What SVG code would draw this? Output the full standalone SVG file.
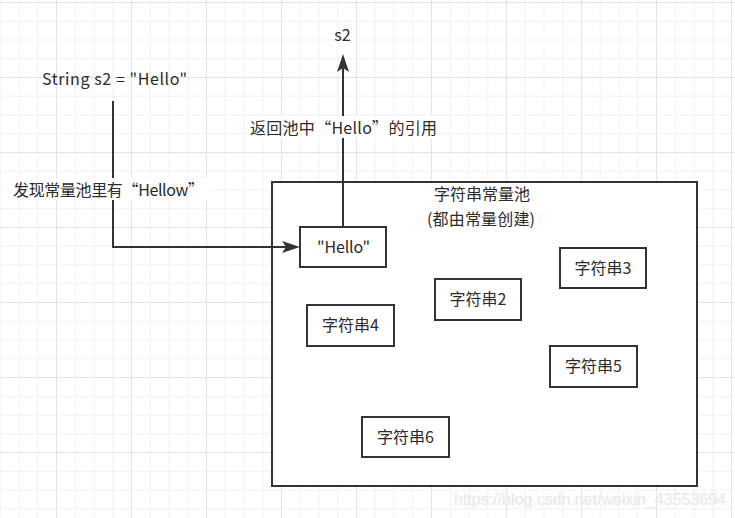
<svg xmlns="http://www.w3.org/2000/svg" width="735" height="518" viewBox="0 0 735 518">
<style>
.txt{font-family:"Noto Sans CJK SC","Noto Sans",sans-serif;font-size:16px;fill:#2b2b2b;text-anchor:middle}
.fw{font-feature-settings:"fwid" 1}
.box{fill:#ffffff;stroke:#333333;stroke-width:2}
.edge{fill:none;stroke:#333333;stroke-width:2}
.lbg{fill:#ffffff}
.wm{font-family:"Liberation Sans",sans-serif;font-size:16px;fill:#dcdcdc;stroke:#f4f4f4;stroke-width:0.6}
</style>
<defs>
<pattern id="grid" patternUnits="userSpaceOnUse" x="56" y="2" width="75" height="75">
<rect x="0" y="0" width="75" height="75" fill="#ffffff"/>
<rect x="18.75" y="0" width="1" height="75" fill="#f1f1f1"/>
<rect x="37.5" y="0" width="1" height="75" fill="#f1f1f1"/>
<rect x="56.25" y="0" width="1" height="75" fill="#f1f1f1"/>
<rect x="0" y="18.75" width="75" height="1" fill="#f1f1f1"/>
<rect x="0" y="37.5" width="75" height="1" fill="#f1f1f1"/>
<rect x="0" y="56.25" width="75" height="1" fill="#f1f1f1"/>
<rect x="0" y="0" width="1" height="75" fill="#e3e3e3"/>
<rect x="0" y="0" width="75" height="1" fill="#e3e3e3"/>
</pattern>
<marker id="arrow" markerUnits="userSpaceOnUse" viewBox="0 0 18 12" markerWidth="18" markerHeight="12" refX="4" refY="6" orient="auto">
<path d="M0,0 L18,6 L0,12 L4,6 Z" fill="#333333"/>
</marker>
</defs>
<rect x="0" y="0" width="735" height="518" fill="url(#grid)"/>

<g id="pool">
<rect class="box" x="272" y="182" width="425" height="304"/>
<text class="txt" x="482" y="200">字符串常量池</text>
<text class="txt" x="481" y="225" textLength="108">(都由常量创建)</text>
</g>

<g id="connectors">
<path class="edge" d="M113,101 V247 H286" marker-end="url(#arrow)"/>
<path class="edge" d="M343,227 V68" marker-end="url(#arrow)"/>
<rect class="lbg" x="7" y="178" width="205" height="22"/>
<text class="txt" x="108.5" y="196" textLength="191">发现常量池里有<tspan class="fw">“</tspan>Hellow<tspan class="fw">”</tspan></text>
<rect class="lbg" x="248" y="116" width="192" height="22"/>
<text class="txt" x="343.5" y="134" textLength="187">返回池中<tspan class="fw">“</tspan>Hello<tspan class="fw">”</tspan>的引用</text>
</g>

<g id="code">
<text class="txt" x="114.5" y="85" textLength="145">String s2 = "Hello"</text>
</g>

<g id="s2">
<text class="txt" x="342.5" y="41">s2</text>
</g>

<g id="hello">
<rect class="box" x="300" y="227" width="86" height="40"/>
<text class="txt" x="343.5" y="253" textLength="53">"Hello"</text>
</g>

<g id="str2">
<rect class="box" x="435" y="279" width="86" height="41"/>
<text class="txt" x="478" y="305">字符串2</text>
</g>

<g id="str3">
<rect class="box" x="560" y="248" width="86" height="40"/>
<text class="txt" x="603" y="274">字符串3</text>
</g>

<g id="str4">
<rect class="box" x="307" y="305" width="87" height="41"/>
<text class="txt" x="350.5" y="331">字符串4</text>
</g>

<g id="str5">
<rect class="box" x="550" y="346" width="87" height="41"/>
<text class="txt" x="593.5" y="372">字符串5</text>
</g>

<g id="str6">
<rect class="box" x="362" y="417" width="87" height="40"/>
<text class="txt" x="405.5" y="443">字符串6</text>
</g>

<text class="wm" x="454" y="505" textLength="272" lengthAdjust="spacingAndGlyphs">https://blog.csdn.net/weixin_43553694</text>
</svg>
